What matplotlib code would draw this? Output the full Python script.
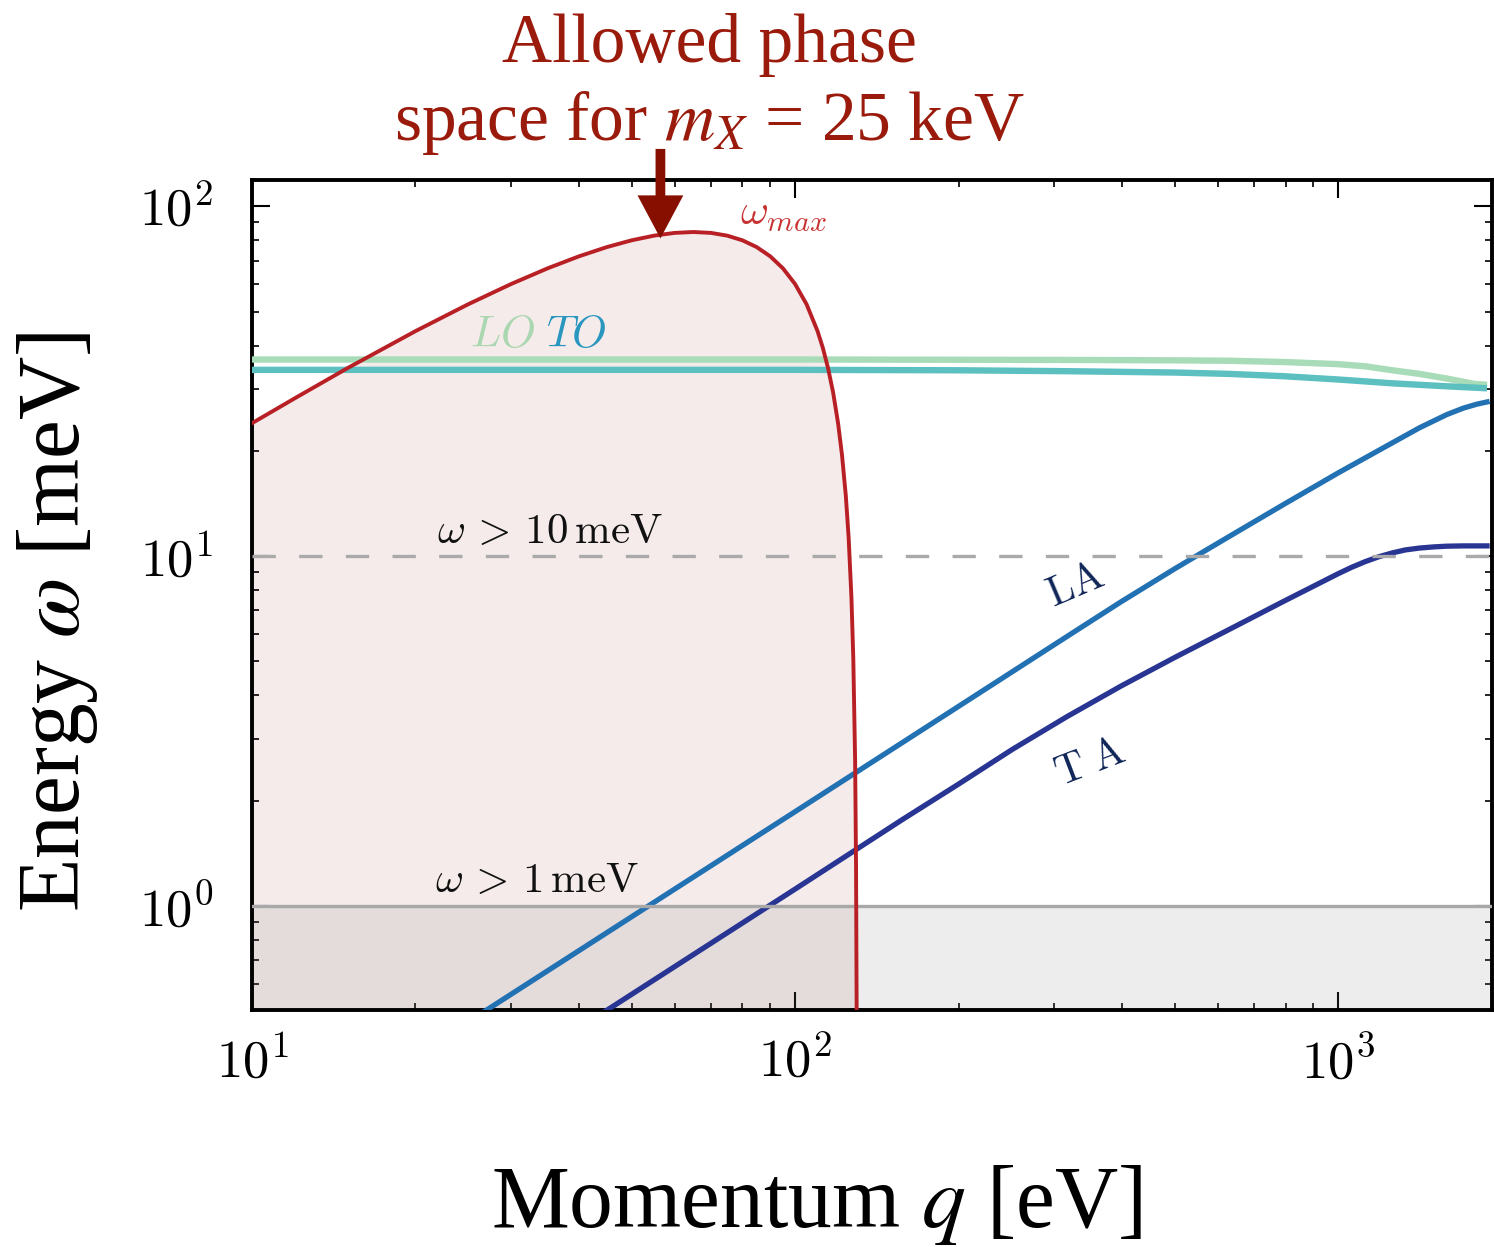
import numpy as np
import matplotlib
matplotlib.use("Agg")
import matplotlib.pyplot as plt
from matplotlib.ticker import NullFormatter

plt.rcParams['font.family'] = ['Liberation Serif', 'DejaVu Serif']
plt.rcParams['mathtext.fontset'] = 'cm'

# omega_max boundary of the allowed phase space (m_X = 25 keV), meV vs eV
q_max = [10, 12, 15, 20, 25, 30, 35, 40, 45, 50, 55, 60, 65, 70, 75, 80, 85, 90,
         95, 100, 105, 110, 112.5, 115, 117.5, 120, 122, 124, 125.5, 127, 128, 129, 129.5, 129.8, 130]
w_max = [24.0, 28.3, 34.5, 44.0, 52.5, 60.0, 66.5, 72.0, 76.5, 80.0, 82.5, 84.0,
         84.5, 84.0, 82.5, 80.0, 76.5, 72.0, 66.5, 60.0, 52.5, 44.0, 39.4, 34.5, 29.4,
         24.0, 19.5, 14.9, 11.3, 7.6, 5.1, 2.6, 1.3, 0.55, 0.3]

# phonon branches
q_LO = [10, 100, 316, 501, 631, 794, 1000, 1122, 1259, 1413, 1585, 1778, 1880]
w_LO = [36.5, 36.5, 36.4, 36.3, 36.2, 35.9, 35.4, 34.9, 34.0, 33.2, 32.2, 31.1, 30.9]
q_TO = [10, 100, 200, 316, 501, 631, 794, 1000, 1259, 1585, 1880]
w_TO = [34.1, 34.1, 34.0, 33.8, 33.5, 33.2, 32.7, 32.0, 31.2, 30.6, 30.2]
q_LA = [25, 50, 100, 200, 316, 398, 501, 631, 794, 1000, 1259, 1413, 1585, 1700, 1800, 1880]
w_LA = [0.466, 0.931, 1.86, 3.72, 5.88, 7.4, 9.22, 11.4, 14.06, 17.3, 21.1, 23.3, 25.4, 26.5, 27.2, 27.6]
q_TA = [40, 100, 158, 200, 251, 316, 398, 501, 631, 794, 1000, 1060, 1122, 1190, 1259,
        1330, 1413, 1500, 1585, 1700, 1880]
w_TA = [0.447, 1.117, 1.77, 2.23, 2.80, 3.47, 4.25, 5.14, 6.18, 7.43, 8.91, 9.3, 9.65,
        9.97, 10.22, 10.42, 10.55, 10.63, 10.68, 10.7, 10.7]

thresholds = [1, 10]
xticks = [10, 100, 1000]
xticklabels = [r'$10^{1}$', r'$10^{2}$', r'$10^{3}$']
yticks = [1, 10, 100]
yticklabels = [r'$10^{0}$', r'$10^{1}$', r'$10^{2}$']

fig = plt.figure(figsize=(14.94, 12.47), dpi=100)
ax = fig.add_axes([252/1494, 1-1010/1247, 1240/1494, 830/1247])
ax.set_xscale('log')
ax.set_yscale('log')
ax.set_xlim(10, 1920)
ax.set_ylim(0.504, 119)

# allowed region
ax.fill_between(q_max, 0.3, w_max, color='#f5ebeb', lw=0, zorder=1)
ax.plot(q_max, w_max, color='#b82025', lw=2.8, zorder=6)

# thresholds
ax.axhspan(0.3, thresholds[0], color='#808080', alpha=0.14, lw=0, zorder=2)
ax.axhline(thresholds[0], color='#a8a8a8', lw=2.4, zorder=5)
ax.axhline(thresholds[1], color='#aaaaaa', lw=2.4, dashes=(7, 7), zorder=5)

# phonons
ax.plot(q_LO, w_LO, color='#a8dcb8', lw=4.6, zorder=3, solid_capstyle='butt')
ax.plot(q_TO, w_TO, color='#5cbfc0', lw=4.6, zorder=3, solid_capstyle='butt')
ax.plot(q_LA, w_LA, color='#2271b3', lw=3.8, zorder=4)
ax.plot(q_TA, w_TA, color='#283593', lw=3.8, zorder=4)

# labels in the plot
ax.text(79.3, 88.8, r'$\omega_{max}$', color='#c83232', fontsize=31, va='baseline')
ax.text(25.2, 39.7, r'$LO$', color='#aad7af', fontsize=32, va='baseline')
ax.text(34.8, 39.7, r'$TO$', color='#2896be', fontsize=32, va='baseline')
ax.text(35.4, 10.93, r'$\omega\, >\, 10\,\mathrm{meV}$', fontsize=31, ha='center', va='baseline', color='#111111')
ax.text(33.5, 1.099, r'$\omega\, >\, 1\,\mathrm{meV}$', fontsize=31, ha='center', va='baseline', color='#111111')
ax.text(329, 8.18, r'$\mathrm{LA}$', fontsize=30, color='#0f2557', rotation=23,
        ha='center', va='center', rotation_mode='anchor')
ax.text(349, 2.55, r'$\mathrm{T\;A}$', fontsize=30, color='#0f2557', rotation=21,
        ha='center', va='center', rotation_mode='anchor')

# arrow + headline
ax.annotate('', xy=(56.5, 81), xytext=(56.5, 146), annotation_clip=False,
            arrowprops=dict(facecolor='#870f00', edgecolor='none', width=7,
                            headwidth=33, headlength=31, shrink=0), zorder=10)
fig.text(709/1494, 1-62/1247, 'Allowed phase', ha='center', va='baseline',
         fontsize=50, color='#9a1b0c')
fig.text(709/1494, 1-140/1247, r'space for $m_X$ = 25 keV', ha='center', va='baseline',
         fontsize=50, color='#9a1b0c', math_fontfamily='stix')

# axes styling
ax.set_xticks(xticks)
ax.set_xticklabels(xticklabels)
ax.set_yticks(yticks)
ax.set_yticklabels(yticklabels)
ax.xaxis.set_minor_formatter(NullFormatter())
ax.yaxis.set_minor_formatter(NullFormatter())
ax.tick_params(which='both', direction='in', top=True, right=True)
ax.tick_params(which='major', length=13, width=1.5, labelsize=38)
ax.tick_params(which='minor', length=5, width=1.2)
ax.tick_params(axis='x', which='major', pad=20)
ax.tick_params(axis='y', which='major', pad=28)
for s in ax.spines.values():
    s.set_linewidth(2.8)

ax.set_xlabel(r'Momentum $q$ [eV]', fontsize=63, math_fontfamily='stix')
ax.set_ylabel(r'Energy $\omega$ [meV]', fontsize=63, math_fontfamily='stix')
ax.xaxis.set_label_coords(0.4556, -0.184)
ax.yaxis.set_label_coords(-0.1226, 0.4675)

fig.savefig('out.png', dpi=100)
